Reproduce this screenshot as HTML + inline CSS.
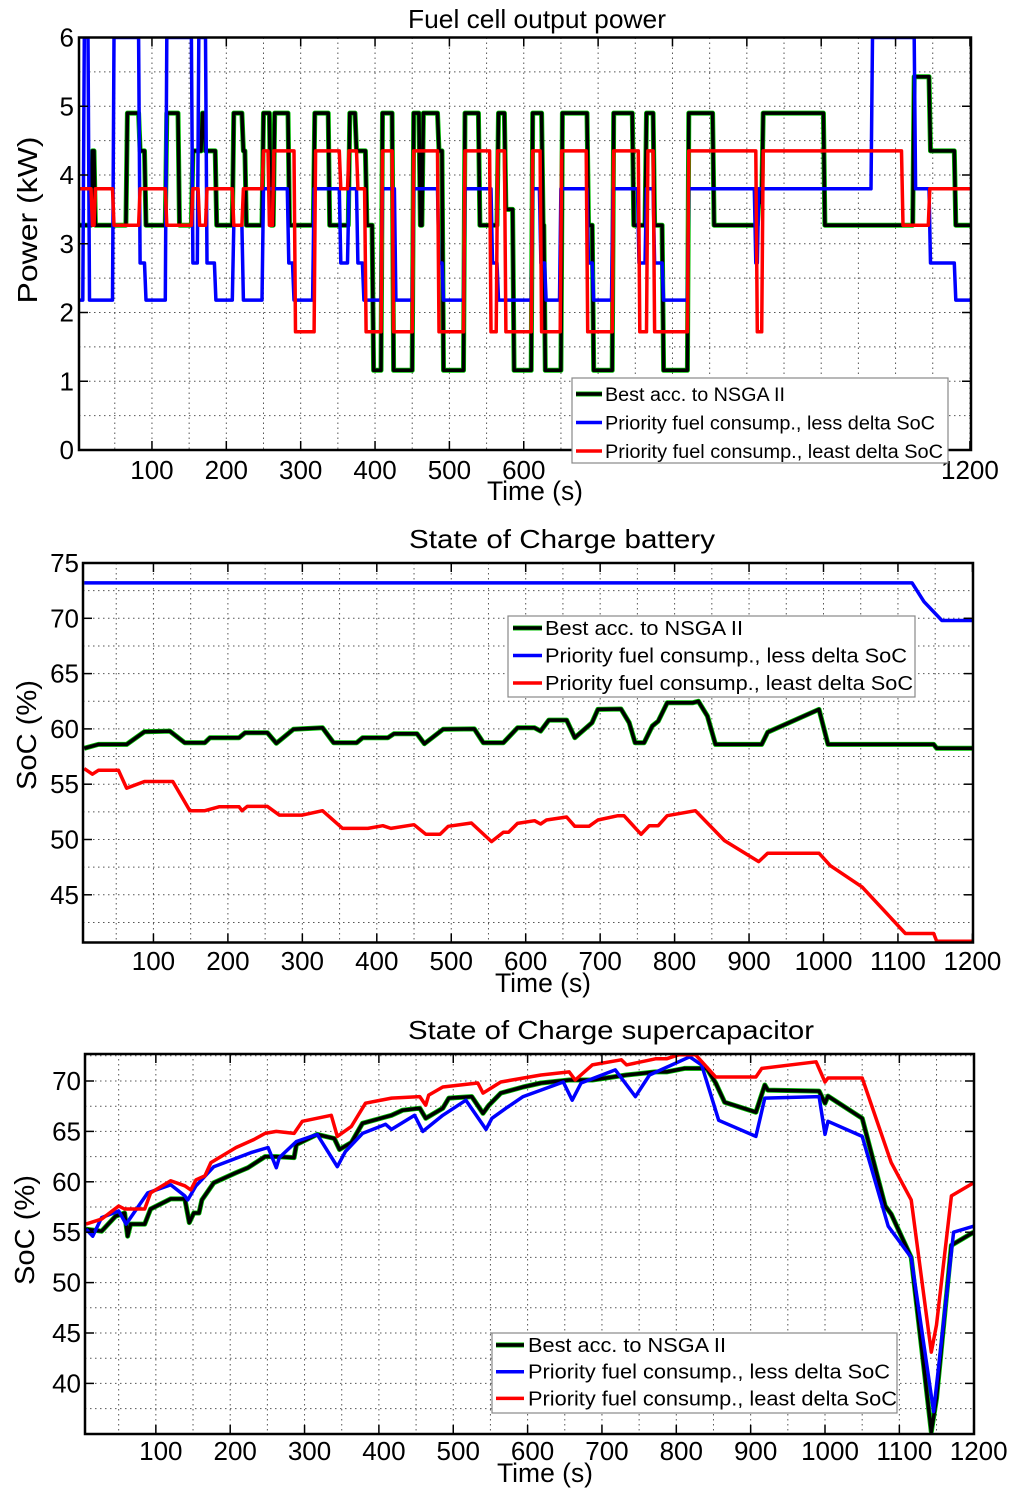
<!DOCTYPE html>
<html><head><meta charset="utf-8"><style>
html,body{margin:0;padding:0;background:#fff;}
svg{display:block;font-family:"Liberation Sans",Arial,sans-serif;}
</style></head><body>
<svg id="fig" width="1024" height="1500" viewBox="0 0 1024 1500" xmlns="http://www.w3.org/2000/svg"></svg>
<script>
// ---------- Chart 1: Fuel cell output power (step series) ----------
const p1BlackT = [2,19,23,66,83,91,119,136,154,167,171,186,209,222,226,249,259,264,284,318,338,365,374,388,397,409,424,451,460,464,485,491,520,540,565,575,586,611,625,628,651,686,693,720,747,764,775,787,821,855,915,921,1004,1124,1146,1180];
const p1BlackV = [3.27,4.35,3.27,4.9,4.35,3.27,4.9,3.27,4.35,4.9,4.35,3.27,4.9,4.35,3.27,4.9,3.27,4.9,3.27,4.9,3.27,4.9,4.35,3.27,1.16,4.9,1.16,4.9,3.27,4.9,4.35,1.16,4.9,3.27,4.9,3.5,1.16,4.9,3.27,1.16,4.9,3.27,1.16,4.9,3.27,4.9,3.27,1.16,4.9,3.27,3.6,4.9,3.27,5.43,4.35,3.27];
const p1BlueT = [2,8,15,48,83,91,119,154,162,173,185,209,222,249,283,290,317,353,364,376,384,409,427,451,485,491,520,557,565,611,622,629,649,686,693,719,754,764,775,787,821,911,915,1068,1126,1146,1180];
const p1BlueV = [2.18,6,2.18,6,2.72,2.18,6,2.72,6,2.72,2.18,3.27,2.18,3.8,2.72,2.18,3.8,2.72,3.8,2.72,2.18,3.8,2.18,3.8,2.72,2.18,3.8,2.72,2.18,3.8,2.72,2.18,3.8,2.72,2.18,3.8,2.72,3.8,2.72,2.18,3.8,2.72,3.8,6,3.8,2.72,2.18];
const p1RedT = [2,19,23,48,83,119,154,163,173,209,222,249,257,263,292,319,353,364,376,387,409,424,451,485,520,555,564,575,611,623,650,685,720,755,766,775,821,913,921,1109,1145];
const p1RedV = [3.8,3.27,3.8,3.27,3.8,3.27,3.8,3.27,3.8,3.27,3.8,4.35,3.27,4.35,1.72,4.35,3.8,4.35,3.8,1.72,4.35,1.72,4.35,1.72,4.35,1.72,4.35,1.72,4.35,1.72,4.35,1.72,4.35,1.72,4.35,1.72,4.35,1.72,4.35,3.27,3.8];
const p1YTicks = [0,1,2,3,4,5,6];
const p1XTicks = [100,200,300,400,500,600,1200];

// ---------- Chart 2: SoC battery ----------
const b2BlackT = [7,26,64,88,122,142,169,176,215,223,253,265,288,327,342,373,381,415,423,454,464,489,531,543,570,589,612,620,631,655,666,689,697,728,739,747,759,770,778,790,824,832,844,855,917,925,994,1006,1148,1152,1200];
const b2BlackV = [58.25,58.6,58.6,59.75,59.8,58.75,58.75,59.2,59.2,59.65,59.65,58.7,59.96,60.1,58.75,58.75,59.2,59.2,59.56,59.56,58.66,59.96,60.0,58.75,58.75,60.1,60.1,59.8,60.8,60.8,59.2,60.56,61.76,61.8,60.56,58.75,58.75,60.26,60.7,62.36,62.36,62.5,61.16,58.6,58.6,59.7,61.76,58.6,58.6,58.25,58.25];
const b2BlueT = [7,1119,1135,1159,1202];
const b2BlueV = [73.2,73.2,71.5,69.8,69.8];
const b2RedT = [7,18,26,53,64,88,126,149,169,188,215,219,226,253,269,300,327,354,388,408,419,450,466,485,496,527,554,570,577,589,612,620,628,655,666,685,697,724,732,755,766,778,790,828,867,913,925,994,1009,1052,1110,1148,1152,1202];
const b2RedV = [56.41,55.9,56.26,56.26,54.64,55.24,55.24,52.6,52.6,52.96,52.96,52.6,52.99,52.99,52.21,52.21,52.6,51.0,51.0,51.25,51.0,51.34,50.47,50.47,51.19,51.49,49.81,50.65,50.65,51.46,51.7,51.4,51.76,52.03,51.19,51.19,51.76,52.15,52.15,50.47,51.25,51.25,52.15,52.6,49.9,48.0,48.76,48.76,47.64,45.7,41.5,41.5,40.8,40.8];
const b2YTicks = [45,50,55,60,65,70,75];
const b2XTicks = [100,200,300,400,500,600,700,800,900,1000,1100,1200];

// ---------- Chart 3: SoC supercapacitor ----------
const s3BlackT = [6,27,46,58,62,66,85,93,120,139,145,151,158,162,178,208,224,247,262,286,289,317,340,347,363,378,417,432,455,463,486,494,525,540,548,564,594,618,656,687,733,772,787,811,841,853,865,907,919,923,992,1000,1004,1050,1081,1089,1116,1143,1150,1170,1200];
const s3BlackV = [55.3,55.1,56.6,56.9,54.6,55.8,55.8,57.3,58.3,58.3,55.95,56.9,56.9,58.2,59.9,60.9,61.4,62.5,62.5,62.4,63.7,64.7,64.3,63.2,63.9,65.8,66.6,67.1,67.3,66.3,67.3,68.3,68.45,66.8,67.6,68.8,69.4,69.8,70.1,70.1,70.6,70.9,70.9,71.25,71.25,69.8,67.9,66.9,69.6,69.1,69.0,67.8,68.5,66.3,57.6,56.8,52.5,35.2,38.5,53.7,55.0];
const s3BlueT = [6,15,27,50,60,89,120,139,143,154,178,228,251,262,266,289,317,344,355,378,409,417,448,459,486,517,544,552,571,594,618,648,660,672,718,745,764,818,834,857,907,919,992,1000,1004,1050,1085,1116,1139,1146,1173,1200];
const s3BlueV = [55.3,54.6,56.45,57.1,55.8,58.9,59.7,58.6,58.2,59.6,61.5,62.9,63.4,61.4,62.4,64.0,64.7,61.5,63.0,64.8,65.7,65.2,66.6,65.0,66.6,68.1,65.2,66.3,67.3,68.45,69.1,69.9,68.1,69.8,71.1,68.45,70.6,72.4,71.6,66.1,64.5,68.3,68.45,64.7,66.0,64.5,55.6,52.5,40.8,37.2,55.0,55.6];
const s3RedT = [6,27,50,58,85,93,120,139,147,154,166,174,208,232,247,262,286,297,336,344,363,382,417,455,463,467,486,533,540,564,579,618,656,664,687,726,733,772,787,803,826,853,907,915,988,1000,1004,1050,1089,1116,1143,1150,1170,1200];
const s3RedV = [55.8,56.3,57.6,57.3,57.3,58.9,60.1,59.6,59.2,60.2,60.6,61.9,63.4,64.2,64.8,65.0,64.8,66.0,66.6,64.5,65.5,67.8,68.3,68.45,67.6,68.6,69.4,69.8,68.8,69.9,70.1,70.6,70.9,70.1,71.6,72.1,71.6,72.2,72.2,72.6,72.6,70.4,70.4,71.25,71.9,69.9,70.3,70.3,61.9,58.2,43.1,45.8,58.6,59.9];
const s3YTicks = [40,45,50,55,60,65,70];
const s3XTicks = [100,200,300,400,500,600,700,800,900,1000,1100,1200];

const NS = "http://www.w3.org/2000/svg";
const fig = document.getElementById('fig');
function mk(tag, attrs, parent){
  const e = document.createElementNS(NS, tag);
  for (const k in attrs) e.setAttribute(k, attrs[k]);
  (parent||fig).appendChild(e);
  return e;
}
function txt(parent, x, y, s, size, anchor, len){
  const e = mk('text', {x:x, y:y, 'font-size':size, 'text-anchor':anchor||'middle', fill:'#000'}, parent);
  if (len){ e.setAttribute('textLength', len); e.setAttribute('lengthAdjust','spacingAndGlyphs'); }
  e.textContent = s;
  return e;
}

function chart(cfg){
  const g = mk('g', {});
  
  
  const X = t => cfg.x0 + cfg.xs * t;
  const Y = v => cfg.top + (cfg.vmax - v) * (cfg.bottom - cfg.top) / (cfg.vmax - cfg.vmin);
  const L = cfg.left, R = cfg.right, T = cfg.top, B = cfg.bottom;
  const clipId = cfg.name + '-clip';
  const cp = mk('clipPath', {id: clipId}, g);
  mk('rect', {x:L, y:T, width:R-L, height:B-T}, cp);
  const grid = mk('g', {stroke:'#555', 'stroke-width':1, 'stroke-dasharray':'1.5,3.5'}, g);
  
  
  for (let t = 50; t <= 1200; t += 50){
    const x = X(t); if (x <= L+1 || x >= R-1) continue;
    mk('line', {x1:x, x2:x, y1:T, y2:B}, grid);
  }
  for (let v = cfg.vmin - (cfg.vmin % cfg.gstep); v <= cfg.vmax; v += cfg.gstep){
    const y = Y(v); if (y <= T+1 || y >= B-1) continue;
    mk('line', {x1:L, x2:R, y1:y, y2:y}, grid);
  }
  const sg = mk('g', {'clip-path':'url(#'+clipId+')', fill:'none', 'stroke-linejoin':'round'}, g);
  cfg.series.forEach(s => {
    let d = '';
    for (let i = 0; i < s.t.length; i++){
      if (cfg.step && i > 0) d += ' L' + X(s.t[i]-1).toFixed(1) + ',' + Y(s.v[i-1]).toFixed(1);
      d += (i ? ' L' : 'M') + X(s.t[i]+ (cfg.step && i>0 ? 1 : 0)).toFixed(1) + ',' + Y(s.v[i]).toFixed(1);
    }
    if (cfg.step) d += ' L' + X(1205).toFixed(1) + ',' + Y(s.v[s.v.length-1]).toFixed(1);
    if (s.outline){
      const o = mk('path', {d:d, stroke:s.outline, 'stroke-width':5}, sg);
      
      
    }
    const p = mk('path', {d:d, stroke:s.color, 'stroke-width':3.5}, sg);
    
    
  });
  const box = mk('rect', {x:L, y:T, width:R-L, height:B-T, fill:'none', stroke:'#000', 'stroke-width':2.5}, g);
  
  
  const tg = mk('g', {stroke:'#000', 'stroke-width':1.5}, g);
  cfg.xticks.forEach(t => {
    const x = X(t); if (x < L || x > R+2) return;
    mk('line', {x1:x, x2:x, y1:B, y2:B-9}, tg);
    mk('line', {x1:x, x2:x, y1:T, y2:T+9}, tg);
  });
  cfg.yticks.forEach(v => {
    const y = Y(v);
    mk('line', {x1:L, x2:L+9, y1:y, y2:y}, tg);
    mk('line', {x1:R, x2:R-9, y1:y, y2:y}, tg);
  });
  const xl = mk('g', {}, g);
  
  
  cfg.xlabelTicks.forEach(t => txt(xl, Math.min(X(t) + cfg.xlOff, cfg.xlMax), cfg.xlY, String(t), 26, 'middle'));
  const yl = mk('g', {}, g);
  
  
  cfg.yticks.forEach(v => txt(yl, cfg.ylX, Y(v) + 9, String(v), 26, 'end'));
  const tt = txt(g, cfg.titleX, cfg.titleY, cfg.title, 26, 'middle', cfg.titleLen);
  
  
  const xt = txt(g, cfg.xtX, cfg.xtY, 'Time (s)', 27, 'middle', 96);
  
  
  const yt = txt(g, 0, 0, cfg.ytitle, 28, 'middle', cfg.ytLen);
  yt.setAttribute('transform', 'translate(' + cfg.ytX + ',' + cfg.ytY + ') rotate(-90)');
  
  
  const lg = mk('g', {}, g);
  
  
  const Lg = cfg.legend;
  mk('rect', {x:Lg.x, y:Lg.y, width:Lg.w, height:Lg.h, fill:'#fff', stroke:'#888', 'stroke-width':1.2}, lg);
  const names = ['Best acc. to NSGA II','Priority fuel consump., less delta SoC','Priority fuel consump., least delta SoC'];
  const cols = ['#000','#0000ff','#ff0000'];
  const lens = [Lg.l0, Lg.l1, Lg.l2];
  for (let i = 0; i < 3; i++){
    const by = Lg.b0 + i * Lg.dy;
    const ent = mk('g', {}, lg);
    
    
    if (i === 0) mk('line', {x1:Lg.sx1, x2:Lg.sx2, y1:by-7, y2:by-7, stroke:'#00c000', 'stroke-width':5}, ent);
    mk('line', {x1:Lg.sx1, x2:Lg.sx2, y1:by-7, y2:by-7, stroke:cols[i], 'stroke-width':3.5}, ent);
    txt(ent, Lg.tx, by, names[i], Lg.fs, 'start', lens[i]);
  }
}

chart({name:'fuel-cell-power-chart', left:79, right:971, top:37.5, bottom:450, x0:77.6, xs:0.7436,
  vmin:0, vmax:6, gstep:0.5, step:true,
  series:[{key:'nsga-best',t:p1BlackT,v:p1BlackV,color:'#000',outline:'#00c000'},
          {key:'less-delta-soc',t:p1BlueT,v:p1BlueV,color:'#0000ff'},
          {key:'least-delta-soc',t:p1RedT,v:p1RedV,color:'#ff0000'}],
  xticks:b2XTicks, xlabelTicks:p1XTicks, yticks:p1YTicks, xlOff:0, xlMax:972, xlY:479, ylX:74,
  title:'Fuel cell output power', titleX:537, titleY:28, titleLen:258,
  xtX:535, xtY:500, ytitle:'Power (kW)', ytX:37, ytY:220, ytLen:167,
  legend:{x:572, y:378, w:376, h:85, sx1:576, sx2:602, tx:605, b0:401, dy:28.5, fs:19, l0:180, l1:330, l2:338}});

chart({name:'battery-soc-chart', left:83, right:973, top:563, bottom:942.5, x0:79, xs:0.7445,
  vmin:75 - (942.5-563)/11.06, vmax:75, gstep:2.5, step:false,
  series:[{key:'nsga-best',t:b2BlackT,v:b2BlackV,color:'#000',outline:'#00c000'},
          {key:'less-delta-soc',t:b2BlueT,v:b2BlueV,color:'#0000ff'},
          {key:'least-delta-soc',t:b2RedT,v:b2RedV,color:'#ff0000'}],
  xticks:b2XTicks, xlabelTicks:b2XTicks, yticks:b2YTicks, xlOff:0, xlMax:978, xlY:970, ylX:79,
  title:'State of Charge battery', titleX:562, titleY:548, titleLen:306,
  xtX:543, xtY:992, ytitle:'SoC (%)', ytX:36, ytY:735, ytLen:110,
  legend:{x:508, y:616, w:407, h:81, sx1:513, sx2:542, tx:545, b0:635, dy:27.5, fs:20, l0:198, l1:362, l2:368}});

chart({name:'supercapacitor-soc-chart', left:85, right:974, top:1054, bottom:1434, x0:81.5, xs:0.7435,
  vmin:70 - (1434-1081)/10.08, vmax:70 + (1081-1054)/10.08, gstep:2.5, step:false,
  series:[{key:'nsga-best',t:s3BlackT,v:s3BlackV,color:'#000',outline:'#00c000'},
          {key:'less-delta-soc',t:s3BlueT,v:s3BlueV,color:'#0000ff'},
          {key:'least-delta-soc',t:s3RedT,v:s3RedV,color:'#ff0000'}],
  xticks:s3XTicks, xlabelTicks:s3XTicks, yticks:s3YTicks, xlOff:5, xlMax:985, xlY:1460, ylX:81,
  title:'State of Charge supercapacitor', titleX:611, titleY:1039, titleLen:406,
  xtX:545, xtY:1482, ytitle:'SoC (%)', ytX:34, ytY:1230, ytLen:110,
  legend:{x:492, y:1333, w:405, h:80, sx1:496, sx2:524, tx:528, b0:1352, dy:26.7, fs:20, l0:198, l1:362, l2:369}});
</script>
</body></html>
